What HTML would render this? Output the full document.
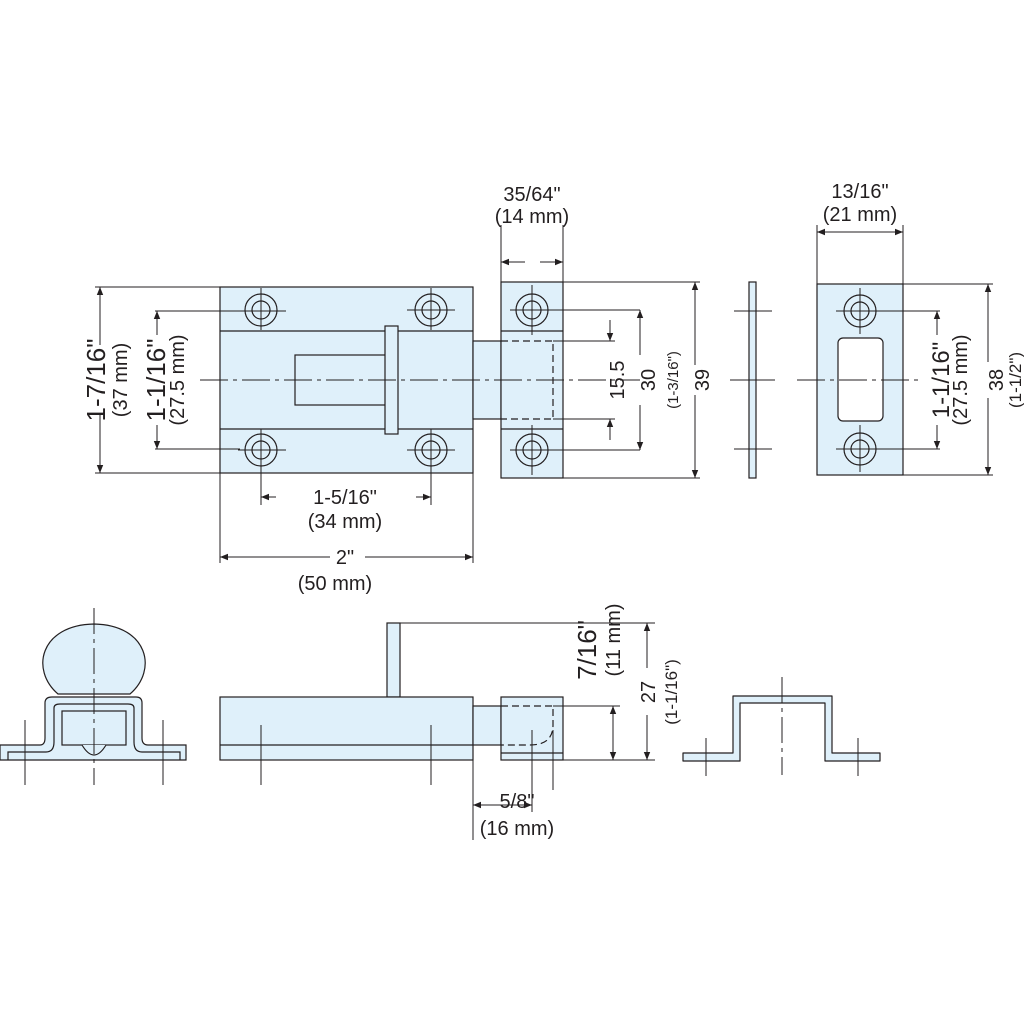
<!DOCTYPE html>
<html><head><meta charset="utf-8"><style>
html,body{margin:0;padding:0;background:#fff;}
svg{display:block;}
text{font-family:"Liberation Sans",Arial,sans-serif;fill:#231f20;}
</style></head><body>
<svg width="1024" height="1024" viewBox="0 0 1024 1024" xmlns="http://www.w3.org/2000/svg">
<defs>
<marker id="a" viewBox="0 0 10 10" refX="10" refY="5" markerWidth="12" markerHeight="8" markerUnits="userSpaceOnUse" orient="auto-start-reverse"><path d="M0,1 L10,5 L0,9 z" fill="#231f20"/></marker>
</defs>
<g stroke="#231f20" stroke-width="1.2" fill="none">
<!-- main plate -->
<rect x="220" y="287" width="253" height="186" fill="#dff0fa"/>
<line x1="220" y1="331" x2="473" y2="331"/>
<line x1="220" y1="429" x2="473" y2="429"/>
<rect x="295" y="355" width="91" height="50" fill="#dff0fa"/>
<rect x="385" y="326" width="13" height="108" fill="#dff0fa"/>
<!-- bolt -->
<rect x="473" y="341" width="28" height="78" fill="#dff0fa"/>
<!-- keeper -->
<rect x="501" y="282" width="62" height="196" fill="#dff0fa"/>
<line x1="501" y1="331" x2="563" y2="331"/>
<line x1="501" y1="429" x2="563" y2="429"/>
<path d="M501,341 H553 V419 H501" stroke-dasharray="7,4"/>
<!-- thin plate -->
<rect x="749" y="282" width="7" height="196" fill="#dff0fa"/>
<!-- strike -->
<rect x="817" y="284" width="86" height="191" fill="#dff0fa"/>
<rect x="838" y="338" width="45" height="83" rx="5" fill="#fff"/>
<!-- holes -->
<g>
<circle cx="261" cy="310" r="16"/><circle cx="261" cy="310" r="9"/>
<circle cx="431" cy="310" r="16"/><circle cx="431" cy="310" r="9"/>
<circle cx="261" cy="450" r="16"/><circle cx="261" cy="450" r="9"/>
<circle cx="431" cy="450" r="16"/><circle cx="431" cy="450" r="9"/>
<circle cx="532" cy="310" r="16"/><circle cx="532" cy="310" r="9"/>
<circle cx="532" cy="450" r="16"/><circle cx="532" cy="450" r="9"/>
<circle cx="860" cy="311" r="16"/><circle cx="860" cy="311" r="9"/>
<circle cx="860" cy="449" r="16"/><circle cx="860" cy="449" r="9"/>
</g>
<!-- hole cross lines -->
<g stroke-width="1">
<line x1="261" y1="288" x2="261" y2="330"/><line x1="431" y1="288" x2="431" y2="330"/>
<line x1="261" y1="429" x2="261" y2="505"/><line x1="431" y1="429" x2="431" y2="505"/>
<line x1="238" y1="450" x2="286" y2="450"/><line x1="407" y1="450" x2="455" y2="450"/>
<line x1="407" y1="310" x2="455" y2="310"/>
<line x1="155" y1="311" x2="286" y2="311"/><line x1="155" y1="449" x2="240" y2="449"/>
<line x1="532" y1="285" x2="532" y2="335"/><line x1="532" y1="425" x2="532" y2="475"/>
<line x1="510" y1="310" x2="640" y2="310"/><line x1="510" y1="450" x2="640" y2="450"/>
<line x1="563" y1="282" x2="700" y2="282"/><line x1="563" y1="478" x2="700" y2="478"/>
<line x1="553" y1="341" x2="615" y2="341"/><line x1="553" y1="419" x2="615" y2="419"/>
<line x1="860" y1="288" x2="860" y2="334"/><line x1="860" y1="425" x2="860" y2="472"/>
<line x1="836" y1="311" x2="940" y2="311"/><line x1="836" y1="449" x2="940" y2="449"/>
<line x1="903" y1="284" x2="993" y2="284"/><line x1="903" y1="475" x2="993" y2="475"/>
<line x1="220" y1="287" x2="95" y2="287"/><line x1="220" y1="473" x2="95" y2="473"/>
<line x1="220" y1="473" x2="220" y2="563"/><line x1="473" y1="473" x2="473" y2="563"/>
<line x1="501" y1="282" x2="501" y2="225"/><line x1="563" y1="282" x2="563" y2="225"/>
<line x1="817" y1="284" x2="817" y2="225"/><line x1="903" y1="284" x2="903" y2="225"/>
<line x1="734" y1="311" x2="772" y2="311"/>
<line x1="734" y1="449" x2="772" y2="449"/>
</g>
<!-- centerline -->
<line x1="200" y1="380" x2="640" y2="380" stroke-dasharray="28,5,4,5" stroke-width="1"/>
<line x1="730" y1="380" x2="775" y2="380" stroke-width="1"/>
<line x1="797" y1="380" x2="923" y2="380" stroke-dasharray="28,5,4,5" stroke-width="1"/>
<!-- dimension lines -->
<g stroke-width="1">
<line x1="100" y1="287" x2="100" y2="345" marker-start="url(#a)"/><line x1="100" y1="415" x2="100" y2="473" marker-end="url(#a)"/>
<line x1="157" y1="311" x2="157" y2="335" marker-start="url(#a)"/><line x1="157" y1="425" x2="157" y2="449" marker-end="url(#a)"/>
<line x1="261" y1="497" x2="276" y2="497" marker-start="url(#a)"/><line x1="416" y1="497" x2="431" y2="497" marker-end="url(#a)"/>
<line x1="220" y1="557" x2="330" y2="557" marker-start="url(#a)"/><line x1="365" y1="557" x2="473" y2="557" marker-end="url(#a)"/>
<line x1="525" y1="262" x2="501" y2="262" marker-end="url(#a)"/>
<line x1="540" y1="262" x2="563" y2="262" marker-end="url(#a)"/>
<line x1="610" y1="320" x2="610" y2="341" marker-end="url(#a)"/><line x1="610" y1="440" x2="610" y2="419" marker-end="url(#a)"/>
<line x1="640" y1="310" x2="640" y2="355" marker-start="url(#a)"/><line x1="640" y1="405" x2="640" y2="450" marker-end="url(#a)"/>
<line x1="695" y1="282" x2="695" y2="365" marker-start="url(#a)"/><line x1="695" y1="395" x2="695" y2="478" marker-end="url(#a)"/>
<line x1="817" y1="232" x2="903" y2="232" marker-start="url(#a)" marker-end="url(#a)"/>
<line x1="937" y1="311" x2="937" y2="335" marker-start="url(#a)"/><line x1="937" y1="425" x2="937" y2="449" marker-end="url(#a)"/>
<line x1="988" y1="284" x2="988" y2="362" marker-start="url(#a)"/><line x1="988" y1="398" x2="988" y2="475" marker-end="url(#a)"/>
</g>
<!-- bottom left end view -->
<path d="M58,694 C30,670 40,625 94,624 C148,625 158,670 130,694 Z" fill="#dff0fa"/>
<path d="M0,745 H40 Q45,745 45,738 V703 Q45,697 52,697 H136 Q142,697 142,703 V738 Q142,745 148,745 H186 V760 H0 Z" fill="#dff0fa"/>
<path d="M8,760 V752 H46 Q54,752 54,742 V708 Q54,704 60,704 H128 Q134,704 134,708 V742 Q134,752 142,752 H180 V760" />
<rect x="62" y="711" width="64" height="34" fill="#dff0fa"/>
<path d="M82,745 Q94,765 106,745" fill="#dff0fa"/>
<g stroke-width="1">
<line x1="94" y1="608" x2="94" y2="785" stroke-dasharray="26,5,4,5"/>
<line x1="25" y1="720" x2="25" y2="785"/><line x1="163" y1="720" x2="163" y2="785"/>
</g>
<!-- side view -->
<rect x="387" y="623" width="13" height="74" fill="#dff0fa"/>
<rect x="220" y="697" width="253" height="63" fill="#dff0fa"/>
<line x1="220" y1="745" x2="473" y2="745"/>
<rect x="473" y="706" width="28" height="39" fill="#dff0fa"/>
<rect x="501" y="697" width="62" height="63" fill="#dff0fa"/>
<line x1="501" y1="753" x2="563" y2="753"/>
<path d="M501,706 H553 V725 Q553,745 530,745 H501" stroke-dasharray="7,4"/>
<g stroke-width="1">
<line x1="400" y1="623" x2="655" y2="623"/>
<line x1="553" y1="706" x2="620" y2="706"/>
<line x1="563" y1="760" x2="655" y2="760"/>
<line x1="261" y1="725" x2="261" y2="785"/><line x1="431" y1="725" x2="431" y2="785"/>
<line x1="473" y1="760" x2="473" y2="840"/><line x1="532" y1="730" x2="532" y2="812"/><line x1="553" y1="730" x2="553" y2="790"/>
<line x1="613" y1="706" x2="613" y2="760" marker-start="url(#a)" marker-end="url(#a)"/>
<line x1="647" y1="623" x2="647" y2="668" marker-start="url(#a)"/><line x1="647" y1="715" x2="647" y2="760" marker-end="url(#a)"/>
<line x1="473" y1="805" x2="532" y2="805" marker-start="url(#a)" marker-end="url(#a)"/>
</g>
<!-- bracket -->
<path d="M683,753 H733 V696 H832 V753 H880 V761 H825 V703 H740 V761 H683 Z" fill="#dff0fa" stroke-linejoin="round"/>
<g stroke-width="1">
<line x1="782" y1="677" x2="782" y2="775" stroke-dasharray="26,5,4,5"/>
<line x1="706" y1="738" x2="706" y2="776"/><line x1="858" y1="738" x2="858" y2="776"/>
</g>
</g>
<!-- text -->
<g font-size="20">
<text x="345" y="504" text-anchor="middle">1-5/16"</text>
<text x="345" y="528" text-anchor="middle">(34 mm)</text>
<text x="345" y="564" text-anchor="middle">2"</text>
<text x="335" y="590" text-anchor="middle">(50 mm)</text>
<text x="532" y="201" text-anchor="middle">35/64"</text>
<text x="532" y="223" text-anchor="middle">(14 mm)</text>
<text x="860" y="198" text-anchor="middle">13/16"</text>
<text x="860" y="221" text-anchor="middle">(21 mm)</text>
<text x="517" y="808" text-anchor="middle">5/8"</text>
<text x="517" y="835" text-anchor="middle">(16 mm)</text>
<text transform="translate(105,380) rotate(-90)" text-anchor="middle" font-size="26">1-7/16"</text>
<text transform="translate(127,380) rotate(-90)" text-anchor="middle">(37 mm)</text>
<text transform="translate(165,380) rotate(-90)" text-anchor="middle" font-size="26">1-1/16"</text>
<text transform="translate(184,380) rotate(-90)" text-anchor="middle">(27.5 mm)</text>
<text transform="translate(624,380) rotate(-90)" text-anchor="middle">15.5</text>
<text transform="translate(655,380) rotate(-90)" text-anchor="middle">30</text>
<text transform="translate(678,380) rotate(-90)" text-anchor="middle" font-size="15">(1-3/16")</text>
<text transform="translate(709,380) rotate(-90)" text-anchor="middle">39</text>
<text transform="translate(949,380) rotate(-90)" text-anchor="middle" font-size="24">1-1/16"</text>
<text transform="translate(967,380) rotate(-90)" text-anchor="middle">(27.5 mm)</text>
<text transform="translate(1003,380) rotate(-90)" text-anchor="middle">38</text>
<text transform="translate(1021,380) rotate(-90)" text-anchor="middle" font-size="17">(1-1/2")</text>
<text transform="translate(596,650) rotate(-90)" text-anchor="middle" font-size="26">7/16"</text>
<text transform="translate(620,640) rotate(-90)" text-anchor="middle">(11 mm)</text>
<text transform="translate(655,692) rotate(-90)" text-anchor="middle">27</text>
<text transform="translate(677,692) rotate(-90)" text-anchor="middle" font-size="17">(1-1/16")</text>
</g>
</svg>
</body></html>
